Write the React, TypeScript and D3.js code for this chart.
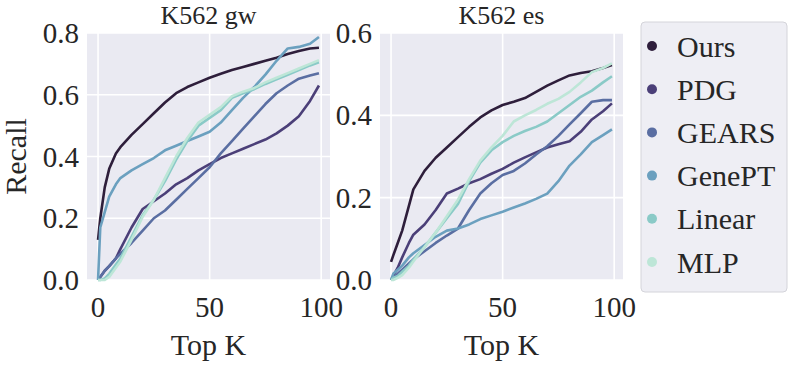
import { useEffect, useRef } from "react";
import * as d3 from "d3";

const topK = [0, 1, 3, 5, 8, 10, 15, 20, 25, 30, 35, 40, 45, 50, 55, 60, 65, 70, 75, 80, 85, 90, 95, 99];

const methods = ["Ours", "PDG", "GEARS", "GenePT", "Linear", "MLP"];
const colors = ["#2e1e3b", "#4b3f78", "#5a6ea2", "#6ba0bf", "#8acac7", "#bde6d7"];

// K562 gw
const gwOurs = [0.13, 0.2, 0.3, 0.36, 0.41, 0.43, 0.47, 0.505, 0.54, 0.575, 0.605, 0.625, 0.64, 0.655, 0.668, 0.68, 0.69, 0.7, 0.71, 0.72, 0.732, 0.742, 0.75, 0.752];
const gwPDG = [0, 0.01, 0.03, 0.045, 0.07, 0.1, 0.17, 0.23, 0.255, 0.28, 0.31, 0.33, 0.355, 0.375, 0.395, 0.41, 0.425, 0.44, 0.455, 0.475, 0.5, 0.53, 0.58, 0.63];
const gwGEARS = [0, 0.01, 0.03, 0.045, 0.07, 0.085, 0.12, 0.16, 0.2, 0.225, 0.26, 0.295, 0.33, 0.365, 0.41, 0.45, 0.49, 0.53, 0.57, 0.605, 0.63, 0.652, 0.662, 0.67];
const gwGenePT = [0, 0.17, 0.22, 0.27, 0.31, 0.33, 0.355, 0.375, 0.395, 0.42, 0.435, 0.45, 0.465, 0.48, 0.51, 0.55, 0.59, 0.625, 0.665, 0.71, 0.75, 0.755, 0.765, 0.787];
const gwLinear = [0, 0, 0.005, 0.02, 0.05, 0.07, 0.14, 0.21, 0.26, 0.32, 0.39, 0.45, 0.5, 0.525, 0.55, 0.59, 0.605, 0.618, 0.635, 0.65, 0.665, 0.68, 0.695, 0.705];
const gwMLP = [0, 0, 0, 0.01, 0.04, 0.06, 0.13, 0.205, 0.26, 0.33, 0.4, 0.46, 0.51, 0.535, 0.56, 0.595, 0.61, 0.622, 0.64, 0.655, 0.67, 0.685, 0.7, 0.712];

// K562 es
const esOurs = [0.044, 0.06, 0.09, 0.12, 0.18, 0.22, 0.265, 0.297, 0.322, 0.347, 0.372, 0.395, 0.412, 0.425, 0.433, 0.442, 0.457, 0.472, 0.485, 0.497, 0.503, 0.507, 0.515, 0.522];
const esPDG = [0, 0.01, 0.03, 0.055, 0.09, 0.11, 0.135, 0.17, 0.21, 0.222, 0.235, 0.245, 0.258, 0.27, 0.285, 0.298, 0.31, 0.322, 0.33, 0.337, 0.36, 0.39, 0.41, 0.429];
const esGEARS = [0, 0.005, 0.015, 0.025, 0.04, 0.05, 0.07, 0.09, 0.108, 0.125, 0.17, 0.21, 0.235, 0.255, 0.265, 0.283, 0.305, 0.325, 0.35, 0.378, 0.405, 0.433, 0.437, 0.437];
const esGenePT = [0, 0.015, 0.025, 0.035, 0.055, 0.065, 0.085, 0.105, 0.12, 0.125, 0.135, 0.148, 0.157, 0.166, 0.176, 0.186, 0.197, 0.21, 0.24, 0.278, 0.305, 0.335, 0.352, 0.366];
const esLinear = [0, 0.005, 0.01, 0.02, 0.035, 0.05, 0.08, 0.115, 0.15, 0.185, 0.24, 0.285, 0.315, 0.335, 0.35, 0.362, 0.372, 0.385, 0.405, 0.425, 0.445, 0.46, 0.48, 0.495];
const esMLP = [0, 0, 0.005, 0.012, 0.03, 0.045, 0.08, 0.115, 0.155, 0.195, 0.245, 0.29, 0.322, 0.35, 0.385, 0.4, 0.413, 0.428, 0.44, 0.457, 0.48, 0.505, 0.515, 0.526];

const xTicks = [0, 50, 100];
const gwTicks = [0, 0.2, 0.4, 0.6, 0.8];
const esTicks = [0, 0.2, 0.4, 0.6];

const panels = [
  { title: "K562 gw", series: [gwOurs, gwPDG, gwGEARS, gwGenePT, gwLinear, gwMLP], yMax: 0.8, yTicks: gwTicks, left: 87, ylabel: "Recall" },
  { title: "K562 es", series: [esOurs, esPDG, esGEARS, esGenePT, esLinear, esMLP], yMax: 0.6, yTicks: esTicks, left: 380, ylabel: "" },
];

export default function App() {
  const svgRef = useRef<SVGSVGElement>(null);

  useEffect(() => {
    const width = 789,
      height = 365;
    const panelW = 243,
      top = 33,
      bottom = 280;
    const font = "'Liberation Serif', 'Times New Roman', serif";
    const textColor = "#262626";

    const svg = d3.select(svgRef.current).attr("width", width).attr("height", height);
    svg.selectAll("*").remove();

    panels.forEach((p) => {
      const x = d3.scaleLinear().domain([-4.95, 103.95]).range([p.left, p.left + panelW]);
      const y = d3.scaleLinear().domain([0, p.yMax]).range([bottom, top]);
      const g = svg.append("g");

      g.append("rect")
        .attr("x", p.left)
        .attr("y", top)
        .attr("width", panelW)
        .attr("height", bottom - top)
        .attr("fill", "#eaeaf2");

      // grid
      g.selectAll(".gx")
        .data(xTicks)
        .join("line")
        .attr("x1", (d) => x(d))
        .attr("x2", (d) => x(d))
        .attr("y1", top)
        .attr("y2", bottom)
        .attr("stroke", "#fff")
        .attr("stroke-width", 1.6);
      g.selectAll(".gy")
        .data(p.yTicks)
        .join("line")
        .attr("x1", p.left)
        .attr("x2", p.left + panelW)
        .attr("y1", (d) => y(d))
        .attr("y2", (d) => y(d))
        .attr("stroke", "#fff")
        .attr("stroke-width", 1.6);

      // curves
      const line = d3
        .line<number>()
        .x((_, i) => x(topK[i]))
        .y((d) => y(d));
      p.series.forEach((s, i) => {
        g.append("path")
          .attr("d", line(s))
          .attr("fill", "none")
          .attr("stroke", colors[i])
          .attr("stroke-width", 2.6)
          .attr("stroke-linejoin", "round");
      });

      // tick labels
      g.selectAll(".tx")
        .data(xTicks)
        .join("text")
        .attr("x", (d) => x(d))
        .attr("y", 317)
        .attr("text-anchor", "middle")
        .attr("font-family", font)
        .attr("font-size", 29)
        .attr("fill", textColor)
        .text((d) => d);
      g.selectAll(".ty")
        .data(p.yTicks)
        .join("text")
        .attr("x", p.left - 8)
        .attr("y", (d) => y(d))
        .attr("dy", "0.35em")
        .attr("text-anchor", "end")
        .attr("font-family", font)
        .attr("font-size", 29)
        .attr("fill", textColor)
        .text((d) => d.toFixed(1));

      g.append("text")
        .attr("x", p.left + panelW / 2)
        .attr("y", 24)
        .attr("text-anchor", "middle")
        .attr("font-family", font)
        .attr("font-size", 26)
        .attr("fill", textColor)
        .text(p.title);
      g.append("text")
        .attr("x", p.left + panelW / 2)
        .attr("y", 355)
        .attr("text-anchor", "middle")
        .attr("font-family", font)
        .attr("font-size", 30)
        .attr("fill", textColor)
        .text("Top K");
      if (p.ylabel) {
        g.append("text")
          .attr("transform", `translate(26,${(top + bottom) / 2}) rotate(-90)`)
          .attr("text-anchor", "middle")
          .attr("font-family", font)
          .attr("font-size", 30)
          .attr("fill", textColor)
          .text(p.ylabel);
      }
    });

    // legend
    const leg = svg.append("g");
    leg.append("rect")
      .attr("x", 641)
      .attr("y", 22)
      .attr("width", 146)
      .attr("height", 270)
      .attr("rx", 4)
      .attr("fill", "#eeeef4")
      .attr("stroke", "#d4d4da")
      .attr("stroke-width", 1);
    const ly = d3.scalePoint().domain(methods).range([46, 262]);
    leg.selectAll("circle")
      .data(methods)
      .join("circle")
      .attr("cx", 652)
      .attr("cy", (d) => ly(d)!)
      .attr("r", 5)
      .attr("fill", (_, i) => colors[i]);
    leg.selectAll("text")
      .data(methods)
      .join("text")
      .attr("x", 677)
      .attr("y", (d) => ly(d)!)
      .attr("dy", "0.35em")
      .attr("font-family", font)
      .attr("font-size", 30)
      .attr("fill", textColor)
      .text((d) => d);
  }, []);

  return <svg ref={svgRef} style={{ position: "absolute", left: 0, top: 0 }}></svg>;
}
